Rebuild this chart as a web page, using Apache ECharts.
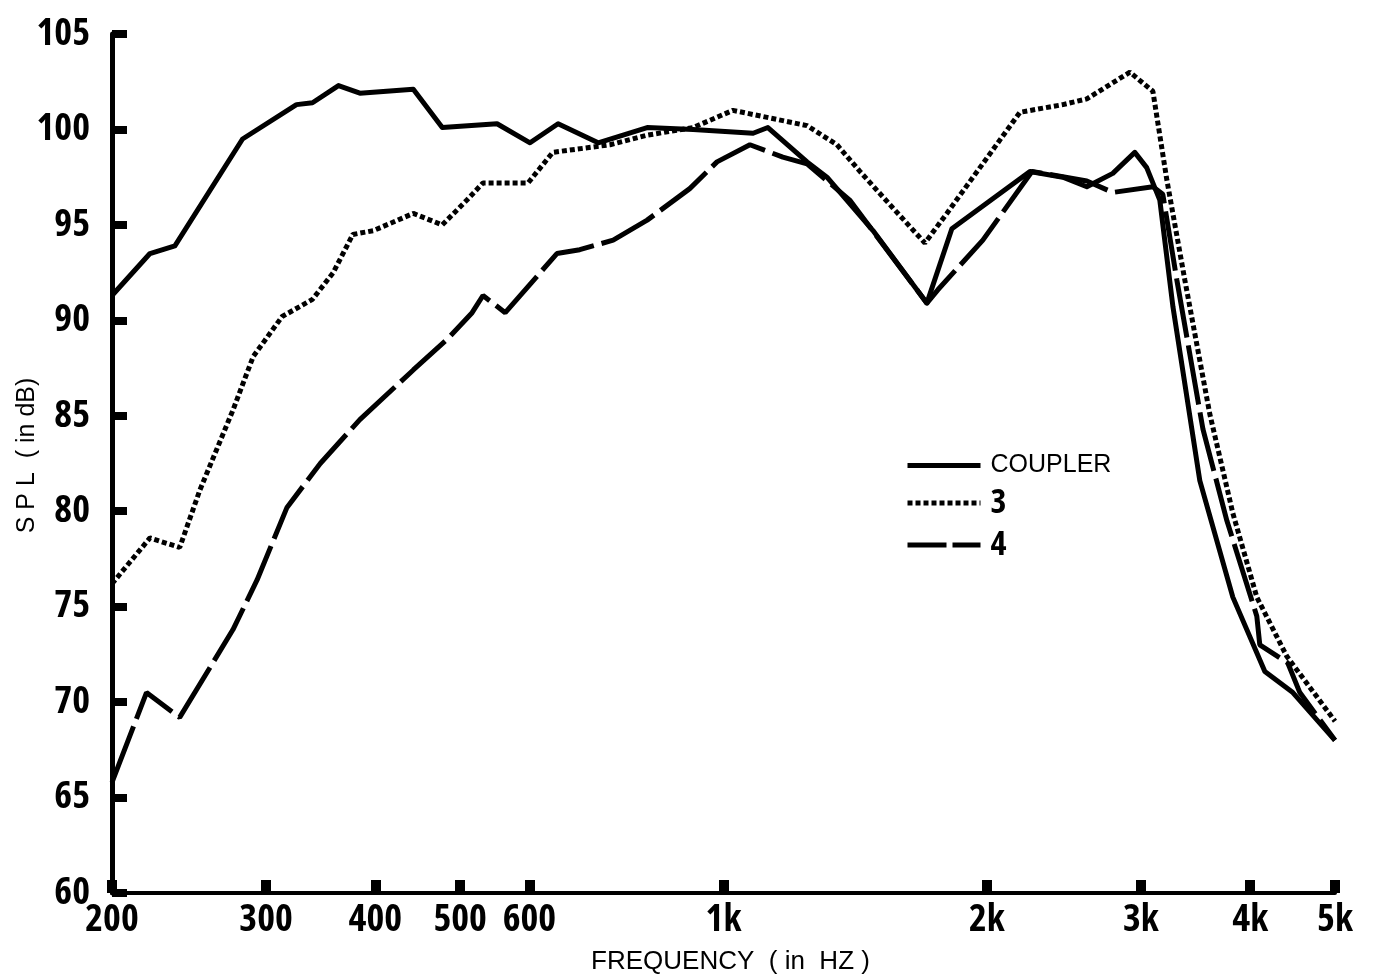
<!DOCTYPE html>
<html>
<head>
<meta charset="utf-8">
<script src="https://cdn.jsdelivr.net/npm/echarts@6/dist/echarts.min.js"></script>
<style>
html,body{margin:0;padding:0;background:#fff;}
#chart{width:1374px;height:979px;}
</style>
</head>
<body>
<div id="chart"></div>
<script>
// ---- data (frequency in Hz, SPL in dB) ----
var xTicks = [200, 300, 400, 500, 600, 1000, 2000, 3000, 4000, 5000];
var yTicks = [60, 65, 70, 75, 80, 85, 90, 95, 100, 105];

var couplerFreq = [200, 221, 236, 282, 325, 339, 363, 384, 442, 477, 551, 601, 647, 719, 818, 923, 1081, 1124, 1246, 1313, 1482, 1708, 1824, 2240, 2443, 2602, 2786, 2952, 3046, 3153, 3264, 3503, 3821, 4157, 4475, 5000];
var couplerSpl  = [91.3, 93.5, 93.9, 99.5, 101.3, 101.4, 102.3, 101.9, 102.1, 100.1, 100.3, 99.3, 100.3, 99.3, 100.1, 100.0, 99.8, 100.1, 98.3, 97.5, 94.7, 90.9, 94.8, 97.8, 97.5, 97.0, 97.7, 98.8, 98.0, 96.3, 90.7, 81.6, 75.5, 71.6, 70.5, 68.0];

var s3Freq = [200, 221, 239, 252, 275, 290, 313, 339, 358, 377, 398, 442, 477, 509, 531, 598, 638, 742, 818, 923, 1025, 1246, 1348, 1432, 1561, 1699, 1800, 2182, 2443, 2602, 2914, 3096, 3212, 3368, 3596, 3821, 4070, 4404, 5000];
var s3Spl  = [76.2, 78.6, 78.1, 81.1, 85.3, 88.1, 90.2, 91.1, 92.5, 94.5, 94.7, 95.6, 95.0, 96.3, 97.2, 97.2, 98.8, 99.2, 99.7, 100.1, 101.0, 100.2, 99.2, 97.8, 95.9, 94.05, 95.6, 100.9, 101.3, 101.6, 103.0, 102.0, 97.35, 92.1, 85.1, 79.9, 75.5, 72.4, 69.0];

var s4Freq = [200, 219, 239, 275, 293, 317, 346, 384, 442, 483, 516, 531, 563, 645, 685, 748, 818, 915, 983, 1072, 1169, 1246, 1394, 1708, 1758, 1979, 2252, 2602, 2786, 3096, 3178, 3298, 3532, 3762, 4070, 4102, 4416, 4558, 5000];
var s4Spl  = [65.8, 70.5, 69.2, 73.8, 76.4, 80.2, 82.5, 84.8, 87.4, 89.0, 90.4, 91.3, 90.4, 93.5, 93.7, 94.2, 95.25, 96.9, 98.3, 99.2, 98.55, 98.2, 96.3, 90.9, 91.6, 94.2, 97.8, 97.3, 96.7, 97.0, 96.6, 92.1, 84.3, 79.5, 74.5, 73.0, 72.05, 70.5, 68.0];

function pairs(fs, vs) { return fs.map(function (f, i) { return [f, vs[i]]; }); }

var numFont = "'Open Sans', 'Roboto', sans-serif";
var numWeight = 'bold condensed';
var textFont = "'Liberation Sans', 'DejaVu Sans', sans-serif";
var chart = echarts.init(document.getElementById('chart'), null, {renderer: 'canvas'});

chart.setOption({
  animation: false,
  backgroundColor: '#fff',
  grid: {left: 112, right: 39, top: 34, bottom: 86, containLabel: false, outerBoundsMode: 'none'},
  xAxis: {
    type: 'log',
    logBase: 10,
    min: 200,
    max: 5000,
    name: 'FREQUENCY  ( in  HZ )',
    nameLocation: 'middle',
    nameGap: 56,
    nameMoveOverlap: false,
    nameTextStyle: {fontFamily: textFont, fontSize: 26, color: '#000', padding: [0, 0, 0, 14]},
    axisLine: {show: true, lineStyle: {color: '#000', width: 4}},
    axisTick: {show: true, inside: true, length: 13, lineStyle: {color: '#000', width: 10}, customValues: xTicks},
    axisLabel: {
      customValues: xTicks,
      margin: 8,
      fontFamily: numFont, fontWeight: numWeight, fontSize: 38, color: '#000',
      formatter: function (v) { return v >= 1000 ? (Math.round(v / 100) / 10) + 'k' : String(Math.round(v)); }
    },
    splitLine: {show: false},
    minorTick: {show: false}
  },
  yAxis: {
    type: 'value',
    min: 60,
    max: 105,
    interval: 5,
    name: 'S P L  ( in dB)',
    nameLocation: 'middle',
    nameRotate: 90,
    nameGap: 72,
    nameMoveOverlap: false,
    nameTextStyle: {fontFamily: textFont, fontSize: 25, color: '#000', padding: [0, 0, 0, 16]},
    axisLine: {show: true, lineStyle: {color: '#000', width: 5}},
    axisTick: {show: true, inside: true, length: 15, lineStyle: {color: '#000', width: 8}},
    axisLabel: {margin: 22, fontFamily: numFont, fontWeight: numWeight, fontSize: 38, color: '#000',
      formatter: function (v) { return yTicks.indexOf(v) >= 0 ? String(v) : ''; }},
    splitLine: {show: false}
  },
  legend: {
    orient: 'vertical',
    left: 900,
    top: 448,
    itemWidth: 73,
    itemHeight: 14,
    itemGap: 8,
    padding: 5,
    itemStyle: {color: 'rgba(0,0,0,0)', borderColor: 'rgba(0,0,0,0)', borderWidth: 0, opacity: 0},
    lineStyle: {color: '#000', width: 5},
    data: [
      {name: 'COUPLER', lineStyle: {type: 'solid', width: 5, color: '#000'}},
      {name: '3', lineStyle: {type: [5, 3], width: 5, color: '#000'}},
      {name: '4', lineStyle: {type: [39, 6], width: 5, color: '#000'}}
    ],
    formatter: function (name) { return name === 'COUPLER' ? '{a|COUPLER}' : '{b|' + name + '}'; },
    textStyle: {
      color: '#000',
      rich: {
        a: {fontFamily: textFont, fontSize: 25, lineHeight: 30, padding: [0, 0, 0, 5], color: '#000'},
        b: {fontFamily: numFont, fontWeight: numWeight, fontSize: 34, lineHeight: 30, padding: [0, 0, 0, 5], color: '#000'}
      }
    }
  },
  series: [
    {
      name: 'COUPLER', type: 'line', symbol: 'none', showSymbol: false,
      data: pairs(couplerFreq, couplerSpl),
      lineStyle: {color: '#000', width: 5, type: 'solid', join: 'round'},
      itemStyle: {color: '#000'}
    },
    {
      name: '3', type: 'line', symbol: 'none', showSymbol: false,
      data: pairs(s3Freq, s3Spl),
      lineStyle: {color: '#000', width: 5, type: [5, 3]},
      itemStyle: {color: '#000'}
    },
    {
      name: '4', type: 'line', symbol: 'none', showSymbol: false,
      data: pairs(s4Freq, s4Spl),
      lineStyle: {color: '#000', width: 5, type: [60, 8]},
      itemStyle: {color: '#000'}
    }
  ]
});
</script>
</body>
</html>
